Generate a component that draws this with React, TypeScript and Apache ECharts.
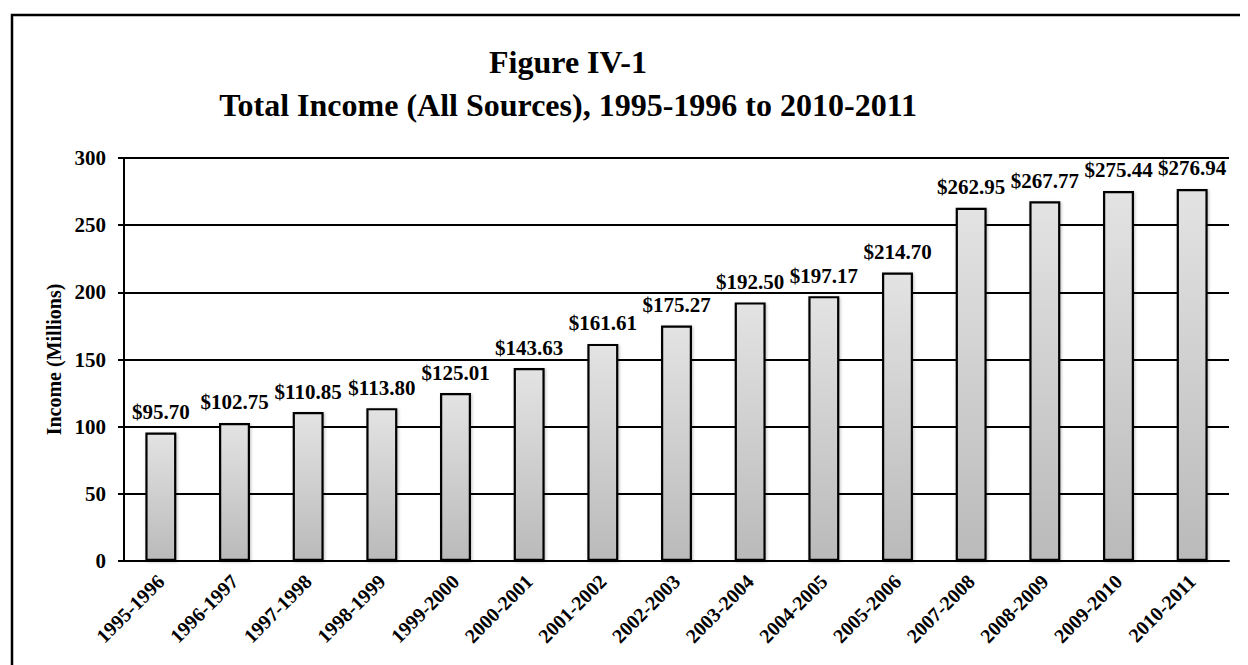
import React, { useEffect, useRef } from "react";
import * as echarts from "echarts";

const categories = [
  "1995-1996", "1996-1997", "1997-1998", "1998-1999", "1999-2000",
  "2000-2001", "2001-2002", "2002-2003", "2003-2004", "2004-2005",
  "2005-2006", "2007-2008", "2008-2009", "2009-2010", "2010-2011",
];
const incomeValues = [
  95.7, 102.75, 110.85, 113.8, 125.01, 143.63, 161.61, 175.27, 192.5,
  197.17, 214.7, 262.95, 267.77, 275.44, 276.94,
];
const titleLine1 = "Figure IV-1";
const titleLine2 = "Total Income (All Sources), 1995-1996 to 2010-2011";
const yAxisName = "Income (Millions)";

const FONT = "'Liberation Serif', 'Times New Roman', Times, serif";

export default function App() {
  const ref = useRef<HTMLDivElement>(null);
  useEffect(() => {
    if (!ref.current) return;
    const chart = echarts.init(ref.current, null, { renderer: "svg" });
    chart.setOption({
      animation: false,
      backgroundColor: "#ffffff",
      graphic: [
        {
          type: "rect",
          shape: { x: 4, y: 7, width: 1400, height: 1000 },
          style: { fill: "none", stroke: "#000", lineWidth: 2.5 },
          silent: true,
        },
        {
          type: "text",
          x: 560,
          y: 54,
          style: {
            text: titleLine1,
            font: `bold 32px ${FONT}`,
            fill: "#000",
            textAlign: "center",
            textVerticalAlign: "middle",
          },
        },
        {
          type: "text",
          x: 560,
          y: 97,
          style: {
            text: titleLine2,
            font: `bold 32px ${FONT}`,
            fill: "#000",
            textAlign: "center",
            textVerticalAlign: "middle",
          },
        },
      ],
      grid: { left: 116, top: 150, right: 19, bottom: 104, containLabel: false },
      xAxis: {
        type: "category",
        data: categories,
        axisLine: { show: true, lineStyle: { color: "#000", width: 2 } },
        axisTick: { show: false },
        axisLabel: {
          rotate: 45,
          interval: 0,
          margin: 17,
          color: "#000",
          fontFamily: FONT,
          fontWeight: "bold",
          fontSize: 20,
        },
      },
      yAxis: {
        type: "value",
        min: 0,
        max: 300,
        interval: 50,
        name: yAxisName,
        nameLocation: "middle",
        nameRotate: 90,
        nameGap: 56,
        nameTextStyle: {
          color: "#000",
          fontFamily: FONT,
          fontWeight: "bold",
          fontSize: 20,
        },
        axisLine: { show: true, lineStyle: { color: "#000", width: 2 } },
        axisTick: { show: true, length: 6, lineStyle: { color: "#000", width: 2 } },
        axisLabel: {
          margin: 18,
          color: "#000",
          fontFamily: FONT,
          fontWeight: "bold",
          fontSize: 21,
        },
        splitLine: { show: true, lineStyle: { color: "#000", width: 2 } },
      },
      series: [
        {
          type: "bar",
          data: incomeValues,
          barWidth: "42%",
          itemStyle: {
            color: new echarts.graphic.LinearGradient(0, 0, 0, 1, [
              { offset: 0, color: "#e3e3e3" },
              { offset: 1, color: "#bababa" },
            ]),
            borderColor: "#000",
            borderWidth: 2.2,
            shadowColor: "rgba(0,0,0,0.25)",
            shadowBlur: 3,
            shadowOffsetX: 1,
            shadowOffsetY: 1,
          },
          label: {
            show: true,
            position: "top",
            distance: 10,
            color: "#000",
            fontFamily: FONT,
            fontWeight: "bold",
            fontSize: 21,
            formatter: (p: any) => "$" + Number(p.value).toFixed(2),
          },
        },
      ],
    });
    return () => chart.dispose();
  }, []);
  return <div ref={ref} style={{ width: 1240, height: 657 }} />;
}
